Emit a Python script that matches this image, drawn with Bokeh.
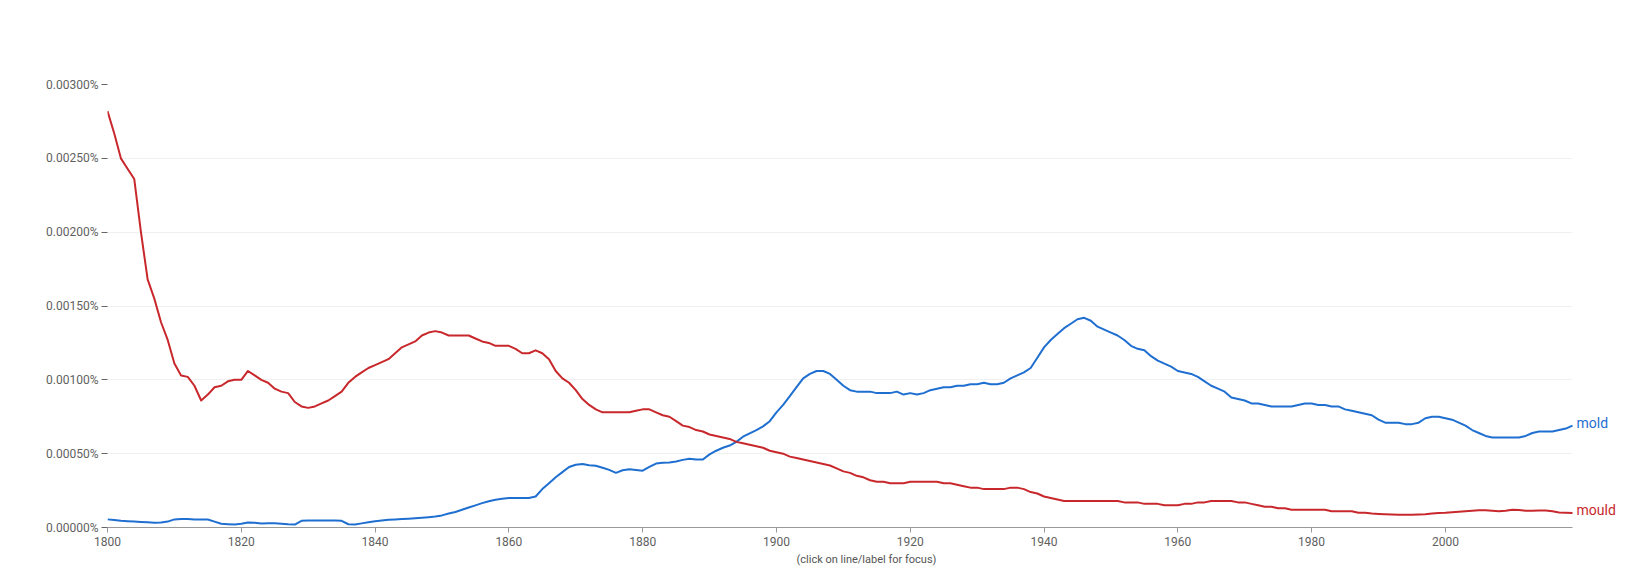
from bokeh.plotting import figure
from bokeh.models import Range1d, FixedTicker, PrintfTickFormatter, ColumnDataSource
from bokeh.core.properties import value
from bokeh.embed import file_html
from bokeh.resources import INLINE

years = list(range(1800, 2020))

mould = [
    0.00282, 0.00267, 0.00250, 0.00243, 0.00236, 0.00200, 0.00168, 0.00155, 0.00139, 0.00127,  # 1800s
    0.00111, 0.00103, 0.00102, 0.00096, 0.00086, 0.00090, 0.00095, 0.00096, 0.00099, 0.00100,  # 1810s
    0.00100, 0.00106, 0.00103, 0.00100, 0.00098, 0.00094, 0.00092, 0.00091, 0.00085, 0.00082,  # 1820s
    0.00081, 0.00082, 0.00084, 0.00086, 0.00089, 0.00092, 0.00098, 0.00102, 0.00105, 0.00108,  # 1830s
    0.00110, 0.00112, 0.00114, 0.00118, 0.00122, 0.00124, 0.00126, 0.00130, 0.00132, 0.00133,  # 1840s
    0.00132, 0.00130, 0.00130, 0.00130, 0.00130, 0.00128, 0.00126, 0.00125, 0.00123, 0.00123,  # 1850s
    0.00123, 0.00121, 0.00118, 0.00118, 0.00120, 0.00118, 0.00114, 0.00106, 0.00101, 0.00098,  # 1860s
    0.00093, 0.00087, 0.00083, 0.00080, 0.00078, 0.00078, 0.00078, 0.00078, 0.00078, 0.00079,  # 1870s
    0.00080, 0.00080, 0.00078, 0.00076, 0.00075, 0.00072, 0.00069, 0.00068, 0.00066, 0.00065,  # 1880s
    0.00063, 0.00062, 0.00061, 0.00060, 0.00058, 0.00057, 0.00056, 0.00055, 0.00054, 0.00052,  # 1890s
    0.00051, 0.00050, 0.00048, 0.00047, 0.00046, 0.00045, 0.00044, 0.00043, 0.00042, 0.00040,  # 1900s
    0.00038, 0.00037, 0.00035, 0.00034, 0.00032, 0.00031, 0.00031, 0.00030, 0.00030, 0.00030,  # 1910s
    0.00031, 0.00031, 0.00031, 0.00031, 0.00031, 0.00030, 0.00030, 0.00029, 0.00028, 0.00027,  # 1920s
    0.00027, 0.00026, 0.00026, 0.00026, 0.00026, 0.00027, 0.00027, 0.00026, 0.00024, 0.00023,  # 1930s
    0.00021, 0.00020, 0.00019, 0.00018, 0.00018, 0.00018, 0.00018, 0.00018, 0.00018, 0.00018,  # 1940s
    0.00018, 0.00018, 0.00017, 0.00017, 0.00017, 0.00016, 0.00016, 0.00016, 0.00015, 0.00015,  # 1950s
    0.00015, 0.00016, 0.00016, 0.00017, 0.00017, 0.00018, 0.00018, 0.00018, 0.00018, 0.00017,  # 1960s
    0.00017, 0.00016, 0.00015, 0.00014, 0.00014, 0.00013, 0.00013, 0.00012, 0.00012, 0.00012,  # 1970s
    0.00012, 0.00012, 0.00012, 0.00011, 0.00011, 0.00011, 0.00011, 0.00010, 0.00010, 0.000095,  # 1980s
    0.000092, 0.000090, 0.000088, 0.000087, 0.000086, 0.000086, 0.000088, 0.000090, 0.000095, 0.000099,  # 1990s
    0.000100, 0.000104, 0.000107, 0.000110, 0.000113, 0.000117, 0.000117, 0.000113, 0.000110, 0.000113,  # 2000s
    0.000120, 0.000118, 0.000113, 0.000113, 0.000115, 0.000115, 0.000110, 0.000102, 0.000100, 0.000099,  # 2010s
]

mold = [
    0.000055, 0.000050, 0.000045, 0.000042, 0.000040, 0.000037, 0.000035, 0.000033, 0.000034, 0.000040,  # 1800s
    0.000055, 0.000058, 0.000057, 0.000055, 0.000055, 0.000054, 0.000040, 0.000025, 0.000022, 0.000020,  # 1810s
    0.000025, 0.000034, 0.000032, 0.000027, 0.000029, 0.000028, 0.000026, 0.000022, 0.000020, 0.000045,  # 1820s
    0.000048, 0.000047, 0.000047, 0.000047, 0.000047, 0.000045, 0.000022, 0.000020, 0.000028, 0.000036,  # 1830s
    0.000043, 0.000048, 0.000052, 0.000055, 0.000057, 0.000059, 0.000062, 0.000066, 0.000070, 0.000075,  # 1840s
    0.000082, 0.000095, 0.000105, 0.000120, 0.000135, 0.000150, 0.000165, 0.000178, 0.000188, 0.000195,  # 1850s
    0.000200, 0.000200, 0.000200, 0.000200, 0.000210, 0.000260, 0.000300, 0.000340, 0.000375, 0.000410,  # 1860s
    0.000425, 0.000430, 0.000422, 0.000418, 0.000405, 0.000390, 0.000370, 0.000388, 0.000395, 0.000390,  # 1870s
    0.000385, 0.000410, 0.000433, 0.000438, 0.000440, 0.000447, 0.000458, 0.000465, 0.000460, 0.000460,  # 1880s
    0.000495, 0.000520, 0.000540, 0.000555, 0.000580, 0.000615, 0.000638, 0.000660, 0.000685, 0.000720,  # 1890s
    0.00078, 0.00083, 0.00089, 0.00095, 0.00101, 0.00104, 0.00106, 0.00106, 0.00104, 0.00100,  # 1900s
    0.00096, 0.00093, 0.00092, 0.00092, 0.00092, 0.00091, 0.00091, 0.00091, 0.00092, 0.00090,  # 1910s
    0.00091, 0.00090, 0.00091, 0.00093, 0.00094, 0.00095, 0.00095, 0.00096, 0.00096, 0.00097,  # 1920s
    0.00097, 0.00098, 0.00097, 0.00097, 0.00098, 0.00101, 0.00103, 0.00105, 0.00108, 0.00115,  # 1930s
    0.00122, 0.00127, 0.00131, 0.00135, 0.00138, 0.00141, 0.00142, 0.00140, 0.00136, 0.00134,  # 1940s
    0.00132, 0.00130, 0.00127, 0.00123, 0.00121, 0.00120, 0.00116, 0.00113, 0.00111, 0.00109,  # 1950s
    0.00106, 0.00105, 0.00104, 0.00102, 0.00099, 0.00096, 0.00094, 0.00092, 0.00088, 0.00087,  # 1960s
    0.00086, 0.00084, 0.00084, 0.00083, 0.00082, 0.00082, 0.00082, 0.00082, 0.00083, 0.00084,  # 1970s
    0.00084, 0.00083, 0.00083, 0.00082, 0.00082, 0.00080, 0.00079, 0.00078, 0.00077, 0.00076,  # 1980s
    0.00073, 0.00071, 0.00071, 0.00071, 0.00070, 0.00070, 0.00071, 0.00074, 0.00075, 0.00075,  # 1990s
    0.00074, 0.00073, 0.00071, 0.00069, 0.00066, 0.00064, 0.00062, 0.00061, 0.00061, 0.00061,  # 2000s
    0.00061, 0.00061, 0.00062, 0.00064, 0.00065, 0.00065, 0.00065, 0.00066, 0.00067, 0.00069,  # 2010s
]

series_names = ["mold", "mould"]
series_colors = ["#1f6fd1", "#c8282c"]
y_ticks = [0.0, 0.0005, 0.0010, 0.0015, 0.0020, 0.0025, 0.0030]
x_ticks = [1800, 1820, 1840, 1860, 1880, 1900, 1920, 1940, 1960, 1980, 2000]
caption = "(click on line/label for focus)"

FONT = "Roboto"

# frame: 1465 px for the 219 years of data; extra room on the right for end labels
px_per_year = 1465 / (years[-1] - years[0])
frame_w = 1630 - 107 - 5
x_end = years[0] + frame_w / px_per_year

p = figure(
    width=1630, height=568,
    output_backend="svg", toolbar_location=None,
    x_range=Range1d(years[0], x_end), y_range=Range1d(0, 0.003),
    min_border_left=107, min_border_right=5, min_border_top=84, min_border_bottom=41,
)
p.outline_line_color = None
p.background_fill_color = "white"
p.border_fill_color = "white"

# grid
p.xgrid.grid_line_color = None
p.ygrid.grid_line_color = "#f0f0f0"
p.ygrid.grid_line_width = 1
p.ygrid.cross_bounds = (years[0], years[-1])

# y axis
p.yaxis.ticker = FixedTicker(ticks=y_ticks)
p.yaxis.formatter = PrintfTickFormatter(format="%.5f%%")
p.yaxis.axis_line_color = None
p.yaxis.major_tick_line_color = "#666666"
p.yaxis.major_tick_line_width = 1
p.yaxis.major_tick_out = 6
p.yaxis.major_tick_in = 0
p.yaxis.minor_tick_line_color = None
p.yaxis.major_label_standoff = 3
p.yaxis.major_label_text_font = FONT
p.yaxis.major_label_text_font_size = "12px"
p.yaxis.major_label_text_color = "#5f5f5f"

# x axis
p.xaxis.ticker = FixedTicker(ticks=x_ticks)
p.xaxis.bounds = (years[0], years[-1])
p.xaxis.axis_line_color = "#999999"
p.xaxis.axis_line_width = 1
p.xaxis.major_tick_line_color = "#999999"
p.xaxis.major_tick_out = 5
p.xaxis.major_tick_in = 0
p.xaxis.minor_tick_line_color = None
p.xaxis.major_label_standoff = 4
p.xaxis.major_label_text_font = FONT
p.xaxis.major_label_text_font_size = "12px"
p.xaxis.major_label_text_color = "#5f5f5f"
p.xaxis.axis_label = caption
p.xaxis.axis_label_text_font = FONT
p.xaxis.axis_label_text_font_size = "11px"
p.xaxis.axis_label_text_font_style = "normal"
p.xaxis.axis_label_text_color = "#555555"
p.xaxis.axis_label_standoff = 4

data = {"mold": mold, "mould": mould}
for name, color in zip(series_names, series_colors):
    src = ColumnDataSource(dict(x=years, y=data[name]))
    p.line("x", "y", source=src, line_color=color, line_width=2, line_join="round")
    end_src = ColumnDataSource(dict(x=[years[-1]], y=[data[name][-1]], t=[name]))
    p.text("x", "y", text="t", source=end_src, x_offset=4, y_offset=-3,
           text_font=value(FONT), text_font_size="14px", text_color=color,
           text_baseline="middle", text_align="left")

open("out.html", "w").write(file_html(p, INLINE))
